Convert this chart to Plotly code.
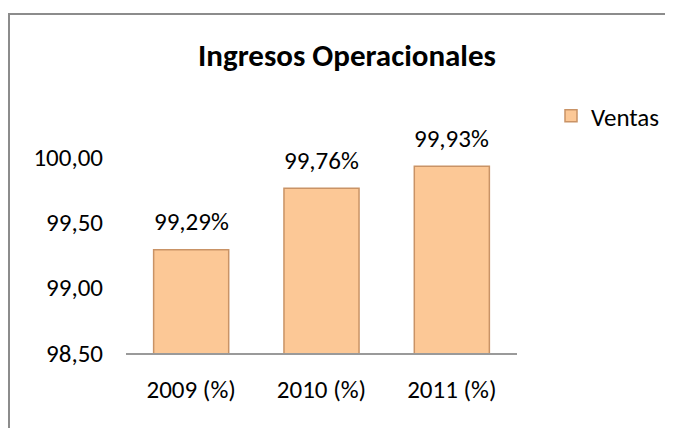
import plotly.graph_objects as go

categories = ["2009 (%)", "2010 (%)", "2011 (%)"]
ventas = [99.29, 99.76, 99.93]
series_name = "Ventas"
title_text = "Ingresos Operacionales"
y_ticks = [98.5, 99.0, 99.5, 100.0]

FONT = "Carlito, Calibri, Lato, sans-serif"
W, H = 673, 428
OFF = 8  # page body margin offset
L, R, T, B = 126 - OFF, 517 - OFF, 157 - OFF, 353 - OFF

def fmt(v):
    return f"{v:.2f}%".replace(".", ",")

fig = go.Figure()
fig.add_trace(go.Bar(
    x=categories, y=ventas, name=series_name,
    marker=dict(color="#FCC896", line=dict(color="#C99366", width=1.5)),
    showlegend=True,
))

for c, v in zip(categories, ventas):
    fig.add_annotation(x=c, y=v, text=fmt(v), showarrow=False,
                       yanchor="middle", yshift=28,
                       font=dict(family=FONT, size=25, color="#000000"))

def px_x(p):
    return (p - OFF - L) / (R - L)

def px_y(p):
    return (B - (p - OFF)) / (B - T)

# outer chart-area border
fig.add_shape(type="rect", xref="paper", yref="paper",
              x0=px_x(9), x1=px_x(740), y0=px_y(480), y1=px_y(14),
              line=dict(color="#8C8C8C", width=2), fillcolor="rgba(0,0,0,0)",
              layer="below")

fig.update_layout(
    width=W, height=H,
    margin=dict(l=L, r=W - R, t=T, b=H - B, pad=0),
    paper_bgcolor="white", plot_bgcolor="white",
    separators=",.",
    bargap=0.424,
    font=dict(family=FONT, size=25, color="#000000"),
    title=dict(text="<b>" + title_text + "</b>", xref="container", yref="container",
               x=(347 - OFF) / W, y=1 - (55 - OFF) / H, xanchor="center", yanchor="middle",
               font=dict(family=FONT, size=31, color="#000000")),
    legend=dict(x=px_x(551), y=px_y(116), xanchor="left", yanchor="middle",
                font=dict(family=FONT, size=25), bgcolor="rgba(0,0,0,0)",
                itemwidth=30),
    xaxis=dict(showline=True, linecolor="#9A9A9A", linewidth=1.5,
               showgrid=False, ticks="", ticklabelstandoff=13,
               tickfont=dict(family=FONT, size=25)),
    yaxis=dict(range=[98.5, 100.0], tickvals=y_ticks, tickformat=".2f",
               showgrid=False, showline=False, zeroline=False, ticks="",
               ticklabelstandoff=22, tickfont=dict(family=FONT, size=25)),
)

fig.write_html("out.html")
